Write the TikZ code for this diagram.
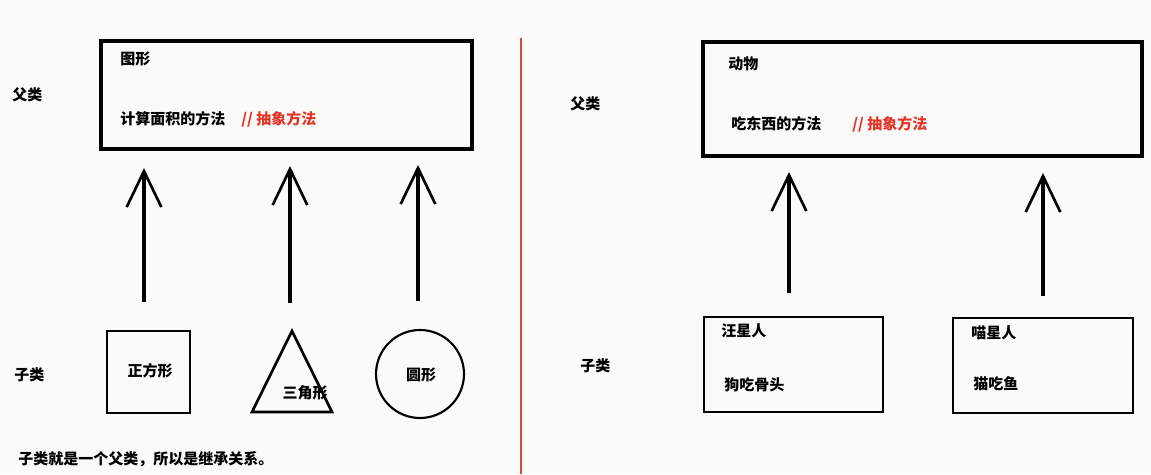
\documentclass[tikz,border=0pt]{standalone}
\usepackage{fontspec}
\newfontfamily\cjk{Noto Sans CJK SC}
\usetikzlibrary{arrows.meta}
\definecolor{bgc}{RGB}{250,251,249}
\definecolor{redtxt}{RGB}{228,52,40}
\definecolor{redline}{RGB}{220,70,60}
\tikzset{
  lbl/.style={font=\cjk\bfseries\fontsize{11.25}{13}\selectfont, inner sep=0pt, anchor=west, text=black},
  redlbl/.style={lbl, text=redtxt},
  boxshape/.style={draw=black, line width=2.4pt, inner sep=0pt},
  shapeline/.style={draw=black, line width=2pt},
  inherit/.style={draw=black, line width=2.3pt, -{Straight Barb[length=27pt, width=26pt, line width=2pt]}},
}
\begin{document}
\begin{tikzpicture}[x=0.75pt, y=-0.75pt]
\useasboundingbox[fill=bgc] (0,0) rectangle (1151,474);

% ---------- left half ----------
\node[lbl] (fl) at (12,95) {父类};
\node[boxshape, minimum width=371*0.75pt, minimum height=108*0.75pt] (shapebox) at (286.5,95) {};
\node[lbl] (tx) at (120,59) {图形};
\node[lbl] (area) at (120,119) {计算面积的方法};
\node[redlbl] (abs1) at (241,119) {// 抽象方法};

\node[lbl] (zl) at (14,375) {子类};
\node[boxshape, line width=2pt, minimum width=83*0.75pt, minimum height=82*0.75pt] (sq) at (148.5,372) {};
\node[lbl, anchor=center] (sqt) at (150,371) {正方形};
\coordinate (triA) at (292,331);
\coordinate (triB) at (252,412);
\coordinate (triC) at (332,412);
\draw[shapeline, line join=miter] (triA) -- (triB) -- (triC) -- cycle;
\node[lbl, anchor=center] (trit) at (305,393) {三角形};
\node[draw=black, line width=1.6pt, circle, minimum size=88*0.75pt, inner sep=0pt] (circ) at (420,374) {};
\node[lbl, anchor=center] (circt) at (421,375) {圆形};

\coordinate (s1) at (144,302); \coordinate (e1) at (144,168);
\coordinate (s2) at (290,303); \coordinate (e2) at (290,166);
\coordinate (s3) at (418,301); \coordinate (e3) at (418,165);
\draw[inherit] (s1) -- (e1);
\draw[inherit] (s2) -- (e2);
\draw[inherit] (s3) -- (e3);

\node[lbl] (note) at (18,459) {子类就是一个父类，所以是继承关系。};

% ---------- divider ----------
\coordinate (dtop) at (521,38);
\coordinate (dbot) at (521,474);
\draw[redline, line width=2pt] (dtop) -- (dbot);

% ---------- right half ----------
\node[lbl] (fr) at (570,104) {父类};
\node[boxshape, minimum width=439*0.75pt, minimum height=114*0.75pt] (animal) at (922.5,99) {};
\node[lbl] (dw) at (728,64) {动物};
\node[lbl] (eat) at (731,124) {吃东西的方法};
\node[redlbl] (abs2) at (852,124) {// 抽象方法};

\node[lbl] (zr) at (580,366) {子类};
\node[boxshape, line width=2pt, minimum width=179*0.75pt, minimum height=95*0.75pt] (dog) at (793.5,364.5) {};
\node[lbl] (dogn) at (721,331) {汪星人};
\node[lbl] (dogm) at (724,385) {狗吃骨头};
\node[boxshape, line width=2pt, minimum width=180*0.75pt, minimum height=95*0.75pt] (cat) at (1043,365.5) {};
\node[lbl] (catn) at (971,333) {喵星人};
\node[lbl] (catm) at (973,384) {猫吃鱼};

\coordinate (s4) at (789,293); \coordinate (e4) at (789,172);
\coordinate (s5) at (1043,296); \coordinate (e5) at (1043,173);
\draw[inherit] (s4) -- (e4);
\draw[inherit] (s5) -- (e5);
\end{tikzpicture}
\end{document}
